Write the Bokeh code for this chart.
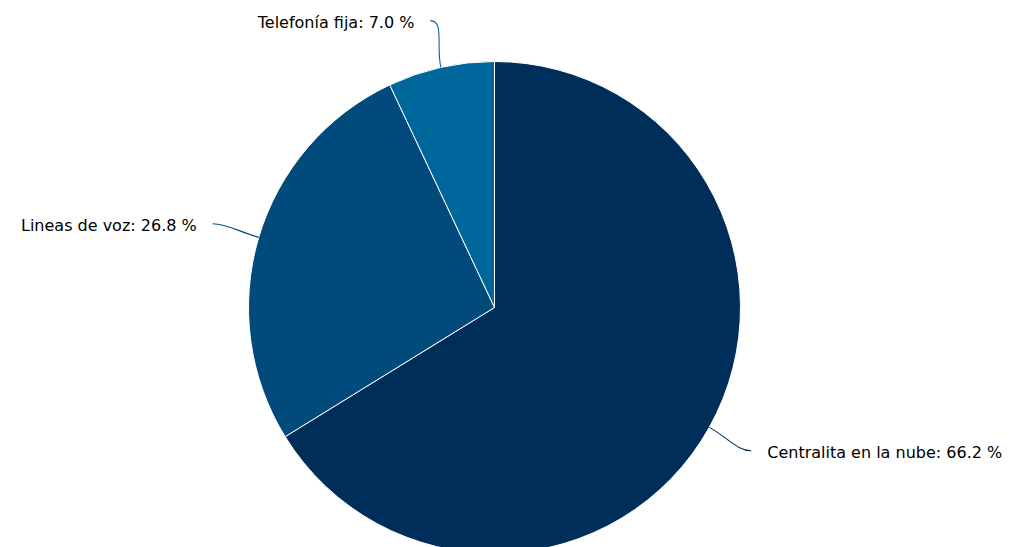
import math
from bokeh.plotting import figure
from bokeh.models import Range1d, ColumnDataSource
from bokeh.core.properties import value
from bokeh.embed import file_html
from bokeh.resources import INLINE

# ---- data ----
categories = ["Centralita en la nube", "Lineas de voz", "Telefonía fija"]
shares = [66.2, 26.8, 7.0]
palette = ["#002e5a", "#004b7b", "#00679d"]

# ---- layout (pixel-like data space) ----
W, H = 1012, 547
cx, cy = 494, H - 307
R = 246
DIST = 48        # label distance outside the pie
GAP = 16         # horizontal gap between connector end and text

p = figure(width=W, height=H, output_backend="svg", toolbar_location=None,
           x_range=Range1d(0, W), y_range=Range1d(0, H), min_border=0)
p.axis.visible = False
p.grid.visible = False
p.outline_line_color = None
p.background_fill_color = "white"

total = sum(shares)
starts, ends, mids = [], [], []
acc = 0.0
for v in shares:
    a0 = math.pi / 2 - acc / total * 2 * math.pi
    acc += v
    a1 = math.pi / 2 - acc / total * 2 * math.pi
    starts.append(a0)
    ends.append(a1)
    mids.append((a0 + a1) / 2)

src = ColumnDataSource(dict(x=[cx] * 3, y=[cy] * 3, s=starts, e=ends, c=palette))
p.wedge(x="x", y="y", radius=R, start_angle="s", end_angle="e", direction="clock",
        fill_color="c", line_color="white", line_width=1, source=src)

bx0, by0, bx1, by1, bcx0, bcy0, bcx1, bcy1 = [], [], [], [], [], [], [], []
tx, ty, tt, ta = [], [], [], []
for name, v, m, col in zip(categories, shares, mids, palette):
    ux, uy = math.cos(m), math.sin(m)
    ex, ey = cx + R * ux, cy + R * uy
    lx, ly = cx + (R + DIST) * ux, cy + (R + DIST) * uy
    right = ux >= 0
    sgn = 1 if right else -1
    bx0.append(lx); by0.append(ly)
    bx1.append(ex); by1.append(ey)
    bcx0.append(lx - sgn * 14); bcy0.append(ly)
    bcx1.append(ex + ux * 22); bcy1.append(ey + uy * 22)
    tx.append(lx + sgn * GAP); ty.append(ly - 2)
    tt.append(f"{name}: {v:.1f} %")
    ta.append("left" if right else "right")

p.bezier(x0=bx0, y0=by0, x1=bx1, y1=by1, cx0=bcx0, cy0=bcy0, cx1=bcx1, cy1=bcy1,
         line_color=palette, line_width=1.1)

tsrc = ColumnDataSource(dict(x=tx, y=ty, t=tt, a=ta))
p.text(x="x", y="y", text="t", text_align="a", text_baseline="middle",
       text_font=value("DejaVu Sans"), text_font_size="16px", text_color="#000000",
       source=tsrc)

open("out.html", "w").write(file_html(p, INLINE))
